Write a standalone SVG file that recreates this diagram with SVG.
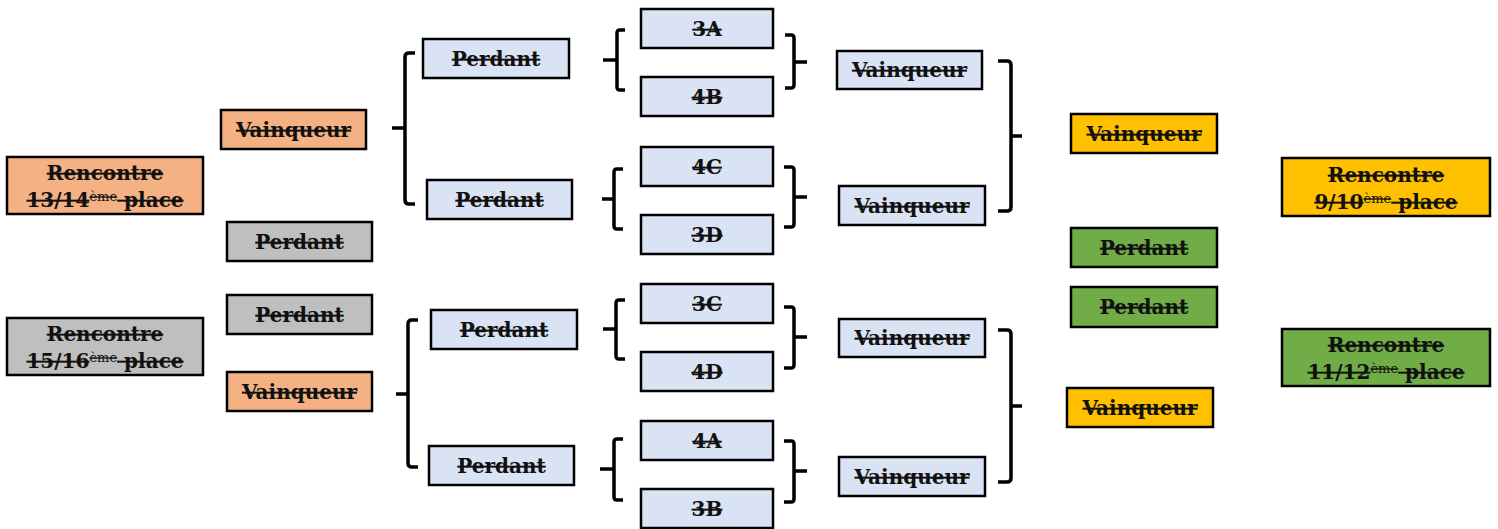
<svg xmlns="http://www.w3.org/2000/svg" width="1498" height="529" viewBox="0 0 1498 529">
<style>
rect{stroke:#000;stroke-width:2.5}
text{font-family:"DejaVu Serif","Liberation Serif",serif;font-weight:bold;font-size:20px;text-anchor:middle;text-decoration:line-through;fill:#111}
.sup{font-size:13px;font-weight:normal}
.or{fill:#F4B183}.gr{fill:#BFBFBF}.bl{fill:#DAE3F3}.ye{fill:#FFC000}.gn{fill:#70AD47}
#connectors path{fill:none;stroke:#000;stroke-width:3.5;stroke-linejoin:round;stroke-linecap:butt}
</style>
<rect width="1498" height="529" fill="#fff" style="stroke:none"/>
<g id="connectors">
<path d="M415 53 L409 53 Q405 53 405 57 L405 200 Q405 204 409 204 L415 204 M392 128 L405 128"/>
<path d="M418 320 L412 320 Q408 320 408 324 L408 463 Q408 467 412 467 L418 467 M396 394 L408 394"/>
<path d="M625 30 L620 30 Q617 30 617 33 L617 87 Q617 90 620 90 L625 90 M603 60 L617 60"/>
<path d="M623 169 L617 169 Q614 169 614 172 L614 226 Q614 229 617 229 L623 229 M602 199 L614 199"/>
<path d="M625 300 L619 300 Q616 300 616 303 L616 356 Q616 359 619 359 L625 359 M603 329 L616 329"/>
<path d="M623 439 L617 439 Q614 439 614 442 L614 497 Q614 500 617 500 L623 500 M600 469 L614 469"/>
<path d="M785 35 L791 35 Q794 35 794 38 L794 85 Q794 88 791 88 L785 88 M794 62 L807 62"/>
<path d="M784 167 L791 167 Q794 167 794 170 L794 224 Q794 227 791 227 L784 227 M794 197 L807 197"/>
<path d="M784 307 L791 307 Q794 307 794 310 L794 365 Q794 368 791 368 L784 368 M794 337 L807 337"/>
<path d="M784 441 L791 441 Q794 441 794 444 L794 499 Q794 502 791 502 L784 502 M794 471 L807 471"/>
<path d="M998 61 L1007 61 Q1011 61 1011 65 L1011 207 Q1011 211 1007 211 L998 211 M1011 136 L1022 136"/>
<path d="M998 330 L1007 330 Q1011 330 1011 334 L1011 478 Q1011 482 1007 482 L998 482 M1011 406 L1022 406"/>
</g>
<g id="n1"><rect class="or" x="7" y="157" width="196" height="57"/><text x="105" y="180">Rencontre</text><text x="105" y="207">13/14<tspan class="sup" dy="-6">ème</tspan><tspan dy="6"> place</tspan></text></g>
<g id="n2"><rect class="gr" x="7" y="318" width="196" height="57"/><text x="105" y="341">Rencontre</text><text x="105" y="368">15/16<tspan class="sup" dy="-6">ème</tspan><tspan dy="6"> place</tspan></text></g>
<g id="n3"><rect class="or" x="221" y="110" width="145" height="39"/><text x="293.5" y="137">Vainqueur</text></g>
<g id="n4"><rect class="gr" x="227" y="222" width="145" height="39"/><text x="299.5" y="249">Perdant</text></g>
<g id="n5"><rect class="gr" x="227" y="295" width="145" height="39"/><text x="299.5" y="322">Perdant</text></g>
<g id="n6"><rect class="or" x="227" y="372" width="145" height="39"/><text x="299.5" y="399">Vainqueur</text></g>
<g id="n7"><rect class="bl" x="423" y="39" width="146" height="39"/><text x="496" y="66">Perdant</text></g>
<g id="n8"><rect class="bl" x="427" y="180" width="145" height="39"/><text x="499.5" y="207">Perdant</text></g>
<g id="n9"><rect class="bl" x="431" y="310" width="146" height="39"/><text x="504" y="337">Perdant</text></g>
<g id="n10"><rect class="bl" x="429" y="446" width="145" height="39"/><text x="501.5" y="473">Perdant</text></g>
<g id="n11"><rect class="bl" x="641" y="9" width="132" height="39"/><text x="707" y="36">3A</text></g>
<g id="n12"><rect class="bl" x="641" y="77" width="132" height="39"/><text x="707" y="104">4B</text></g>
<g id="n13"><rect class="bl" x="641" y="147" width="132" height="39"/><text x="707" y="174">4C</text></g>
<g id="n14"><rect class="bl" x="641" y="215" width="132" height="39"/><text x="707" y="242">3D</text></g>
<g id="n15"><rect class="bl" x="641" y="284" width="132" height="39"/><text x="707" y="311">3C</text></g>
<g id="n16"><rect class="bl" x="641" y="352" width="132" height="39"/><text x="707" y="379">4D</text></g>
<g id="n17"><rect class="bl" x="641" y="421" width="132" height="39"/><text x="707" y="448">4A</text></g>
<g id="n18"><rect class="bl" x="641" y="489" width="132" height="39"/><text x="707" y="516">3B</text></g>
<g id="n19"><rect class="bl" x="837" y="51" width="145" height="38"/><text x="909.5" y="77">Vainqueur</text></g>
<g id="n20"><rect class="bl" x="839" y="186" width="146" height="39"/><text x="912" y="213">Vainqueur</text></g>
<g id="n21"><rect class="bl" x="839" y="319" width="146" height="38"/><text x="912" y="345">Vainqueur</text></g>
<g id="n22"><rect class="bl" x="839" y="457" width="146" height="39"/><text x="912" y="484">Vainqueur</text></g>
<g id="n23"><rect class="ye" x="1071" y="114" width="146" height="39"/><text x="1144" y="141">Vainqueur</text></g>
<g id="n24"><rect class="gn" x="1071" y="228" width="146" height="39"/><text x="1144" y="255">Perdant</text></g>
<g id="n25"><rect class="gn" x="1071" y="287" width="146" height="40"/><text x="1144" y="314">Perdant</text></g>
<g id="n26"><rect class="ye" x="1067" y="388" width="146" height="39"/><text x="1140" y="415">Vainqueur</text></g>
<g id="n27"><rect class="ye" x="1282" y="158" width="208" height="58"/><text x="1386" y="182">Rencontre</text><text x="1386" y="209">9/10<tspan class="sup" dy="-6">ème</tspan><tspan dy="6"> place</tspan></text></g>
<g id="n28"><rect class="gn" x="1282" y="329" width="208" height="57"/><text x="1386" y="352">Rencontre</text><text x="1386" y="379">11/12<tspan class="sup" dy="-6">ème</tspan><tspan dy="6"> place</tspan></text></g>
</svg>
